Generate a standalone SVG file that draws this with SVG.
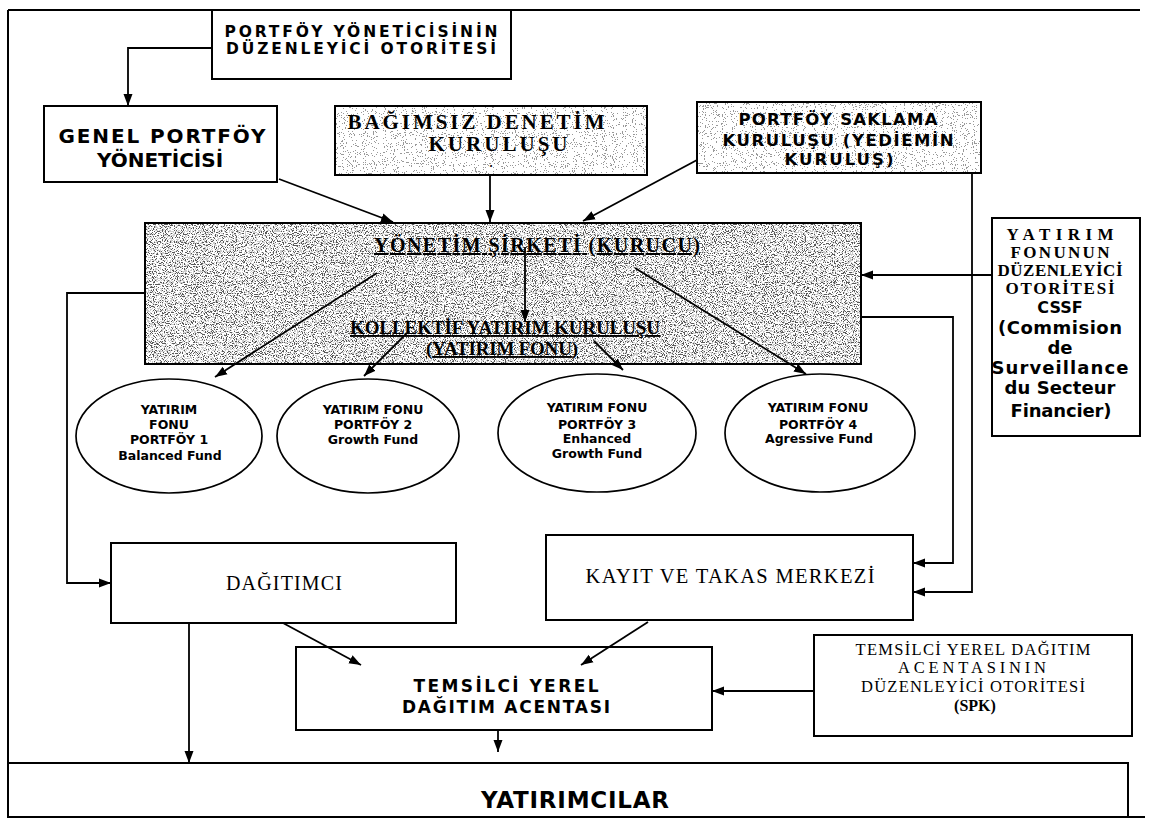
<svg xmlns="http://www.w3.org/2000/svg" width="1149" height="821" viewBox="0 0 1149 821">
<style>
.bx{fill:none;stroke:#000;stroke-width:2}
.cn{fill:none;stroke:#000;stroke-width:1.8}
.ar{marker-end:url(#ah)}
.el{fill:#fff;stroke:#000;stroke-width:1.7}
.sb{font-family:"DejaVu Sans","Liberation Sans",sans-serif;font-weight:bold;fill:#000}
.srb{font-family:"Liberation Serif","DejaVu Serif",serif;font-weight:bold;fill:#000}
.sr{font-family:"Liberation Serif","DejaVu Serif",serif;fill:#000}
.u{text-decoration:underline}
text{text-anchor:middle}
</style>
<defs>
<marker id="ah" viewBox="0 0 12 10" refX="12" refY="5" markerWidth="12" markerHeight="10" markerUnits="userSpaceOnUse" orient="auto">
<path d="M0,0.5 L12,5 L0,9.5 z" fill="#000"/>
</marker>
<filter id="dk" x="0" y="0" width="1" height="1" color-interpolation-filters="sRGB">
<feTurbulence type="fractalNoise" baseFrequency="0.9" numOctaves="2" seed="7"/>
<feColorMatrix type="matrix" values="1 0 0 0 0 1 0 0 0 0 1 0 0 0 0 0 0 0 0 1"/>
<feComponentTransfer>
<feFuncR type="discrete" tableValues="0.35 0.35 0.35 0.35 0.35 0.35 0.35 0.35 0.8 0.8 1 1 1 1 1 1 1 1 1 1"/>
<feFuncG type="discrete" tableValues="0.35 0.35 0.35 0.35 0.35 0.35 0.35 0.35 0.8 0.8 1 1 1 1 1 1 1 1 1 1"/>
<feFuncB type="discrete" tableValues="0.35 0.35 0.35 0.35 0.35 0.35 0.35 0.35 0.8 0.8 1 1 1 1 1 1 1 1 1 1"/>
</feComponentTransfer>
</filter>
<filter id="lt" x="0" y="0" width="1" height="1" color-interpolation-filters="sRGB">
<feTurbulence type="fractalNoise" baseFrequency="0.9" numOctaves="2" seed="3"/>
<feColorMatrix type="matrix" values="1 0 0 0 0 1 0 0 0 0 1 0 0 0 0 0 0 0 0 1"/>
<feComponentTransfer>
<feFuncR type="discrete" tableValues="0.6 0.6 0.6 0.6 0.6 0.6 0.6 1 1 1 1 1 1 1 1 1 1 1 1 1"/>
<feFuncG type="discrete" tableValues="0.6 0.6 0.6 0.6 0.6 0.6 0.6 1 1 1 1 1 1 1 1 1 1 1 1 1"/>
<feFuncB type="discrete" tableValues="0.6 0.6 0.6 0.6 0.6 0.6 0.6 1 1 1 1 1 1 1 1 1 1 1 1 1"/>
</feComponentTransfer>
</filter>
</defs>
<rect width="1149" height="821" fill="#fff"/>

<g id="frame">
<path class="bx" d="M8,10 H1140 M8,10 V817 H1145"/>
</g>

<g id="portfoy-yoneticisinin-otoritesi">
<rect class="bx" x="212" y="10" width="299" height="69"/>
<text class="sb" x="361" y="37" font-size="15.5" textLength="273">PORTFÖY YÖNETİCİSİNİN</text>
<text class="sb" x="361" y="54" font-size="15.5" textLength="270">DÜZENLEYİCİ OTORİTESİ</text>
</g>

<g id="genel-portfoy-yoneticisi">
<rect class="bx" x="44" y="106" width="233" height="76"/>
<text class="sb" x="162" y="143" font-size="20" textLength="207">GENEL PORTFÖY</text>
<text class="sb" x="160" y="167" font-size="20">YÖNETİCİSİ</text>
</g>

<g id="bagimsiz-denetim">
<rect x="335" y="106" width="312" height="69" fill="#fff" filter="url(#lt)"/>
<rect class="bx" x="335" y="106" width="312" height="69"/>
<text class="srb" x="476" y="129" font-size="21" textLength="257">BAĞIMSIZ DENETİM</text>
<text class="srb" x="498" y="151" font-size="21" textLength="139">KURULUŞU</text>
<text class="srb" x="491" y="167" font-size="12">.</text>
</g>

<g id="portfoy-saklama">
<rect x="697" y="102" width="284" height="71" fill="#fff" filter="url(#lt)"/>
<rect class="bx" x="697" y="102" width="284" height="71"/>
<text class="sb" x="838" y="125" font-size="16.5" textLength="199">PORTFÖY SAKLAMA</text>
<text class="sb" x="838" y="146" font-size="16.5" textLength="231">KURULUŞU (YEDİEMİN</text>
<text class="sb" x="839" y="165" font-size="16.5" textLength="109">KURULUŞ)</text>
</g>

<g id="yonetim-sirketi">
<rect x="145" y="223" width="716" height="141" fill="#fff" filter="url(#dk)"/>
<rect class="bx" x="145" y="223" width="716" height="141"/>
<text class="srb u" x="537" y="252" font-size="20" textLength="326">YÖNETİM ŞİRKETİ (KURUCU)</text>
<text class="srb u" x="505" y="334" font-size="19" textLength="310">KOLLEKTİF YATIRIM KURULUŞU</text>
<text class="srb u" x="502" y="355" font-size="19" textLength="152">(YATIRIM FONU)</text>
</g>

<g id="yatirim-fonu-otoritesi">
<rect class="bx" x="992" y="218" width="148" height="218"/>
<text class="srb" x="1060" y="240" font-size="17" textLength="107">YATIRIM</text>
<text class="srb" x="1060" y="258" font-size="17" textLength="99">FONUNUN</text>
<text class="srb" x="1060" y="276" font-size="17" textLength="125">DÜZENLEYİCİ</text>
<text class="srb" x="1060" y="294" font-size="17" textLength="109">OTORİTESİ</text>
<text class="sb" x="1060" y="313" font-size="16">CSSF</text>
<text class="sb" x="1060" y="334" font-size="18" textLength="124">(Commision</text>
<text class="sb" x="1060" y="354" font-size="18">de</text>
<text class="sb" x="1060" y="374" font-size="18" textLength="137">Surveillance</text>
<text class="sb" x="1060" y="394" font-size="18" textLength="111">du Secteur</text>
<text class="sb" x="1061" y="417" font-size="18" textLength="101">Financier)</text>
</g>

<g id="portfoy-1">
<ellipse class="el" cx="169" cy="436" rx="93" ry="57"/>
<text class="sb" x="169" y="414" font-size="12.5">YATIRIM</text>
<text class="sb" x="169" y="429" font-size="12.5">FONU</text>
<text class="sb" x="169" y="444" font-size="12.5">PORTFÖY 1</text>
<text class="sb" x="170" y="460" font-size="12.5">Balanced Fund</text>
</g>

<g id="portfoy-2">
<ellipse class="el" cx="368" cy="436" rx="91" ry="57"/>
<text class="sb" x="373" y="414" font-size="12.5">YATIRIM FONU</text>
<text class="sb" x="373" y="429" font-size="12.5">PORTFÖY 2</text>
<text class="sb" x="373" y="444" font-size="12.5">Growth Fund</text>
</g>

<g id="portfoy-3">
<ellipse class="el" cx="597" cy="433" rx="99" ry="59"/>
<text class="sb" x="597" y="412" font-size="12.5">YATIRIM FONU</text>
<text class="sb" x="597" y="429" font-size="12.5">PORTFÖY 3</text>
<text class="sb" x="597" y="443" font-size="12.5">Enhanced</text>
<text class="sb" x="597" y="458" font-size="12.5">Growth Fund</text>
</g>

<g id="portfoy-4">
<ellipse class="el" cx="820" cy="433" rx="95" ry="59"/>
<text class="sb" x="818" y="412" font-size="12.5">YATIRIM FONU</text>
<text class="sb" x="818" y="429" font-size="12.5">PORTFÖY 4</text>
<text class="sb" x="819" y="443" font-size="12.5">Agressive Fund</text>
</g>

<g id="dagitimci">
<rect class="bx" x="111" y="543" width="345" height="80"/>
<text class="sr" x="284" y="590" font-size="20" textLength="116">DAĞITIMCI</text>
</g>

<g id="kayit-takas">
<rect class="bx" x="546" y="535" width="367" height="85"/>
<text class="sr" x="730" y="583" font-size="20.5" textLength="289">KAYIT VE TAKAS MERKEZİ</text>
</g>

<g id="temsilci-yerel">
<rect class="bx" x="296" y="647" width="416" height="83"/>
<text class="sb" x="506" y="692" font-size="17" textLength="185">TEMSİLCİ YEREL</text>
<text class="sb" x="506" y="713" font-size="17" textLength="208">DAĞITIM ACENTASI</text>
</g>

<g id="spk">
<rect class="bx" x="814" y="635" width="318" height="101"/>
<text class="sr" x="973" y="655" font-size="16.5" textLength="235">TEMSİLCİ YEREL DAĞITIM</text>
<text class="sr" x="972" y="673" font-size="16.5" textLength="148">ACENTASININ</text>
<text class="sr" x="973" y="692" font-size="16.5" textLength="224">DÜZENLEYİCİ OTORİTESİ</text>
<text class="srb" x="975" y="711" font-size="16">(SPK)</text>
</g>

<g id="yatirimcilar">
<rect class="bx" x="8" y="763" width="1120" height="54"/>
<text class="sb" x="575" y="808" font-size="23" textLength="188">YATIRIMCILAR</text>
</g>

<g id="connectors">
<path class="cn ar" d="M212,48 H128 V106"/>
<path class="cn ar" d="M279,179 L393,222"/>
<path class="cn ar" d="M490,175 V222"/>
<path class="cn ar" d="M697,160 L583,221"/>
<path class="cn ar" d="M972,173 V592 H913"/>
<path class="cn ar" d="M992,275 H861"/>
<path class="cn ar" d="M525,247 V322"/>
<path class="cn ar" d="M377,273 L215,377"/>
<path class="cn ar" d="M407,333 L364,376"/>
<path class="cn ar" d="M594,341 L623,370"/>
<path class="cn ar" d="M635,268 L806,374"/>
<path class="cn ar" d="M145,293 H67 V583 H111"/>
<path class="cn ar" d="M861,317 H953 V563 H913"/>
<path class="cn ar" d="M189,623 V763"/>
<path class="cn ar" d="M283,623 L361,665"/>
<path class="cn ar" d="M648,622 L581,665"/>
<path class="cn ar" d="M498,730 V752"/>
<path class="cn ar" d="M814,691 H712"/>
</g>
</svg>
